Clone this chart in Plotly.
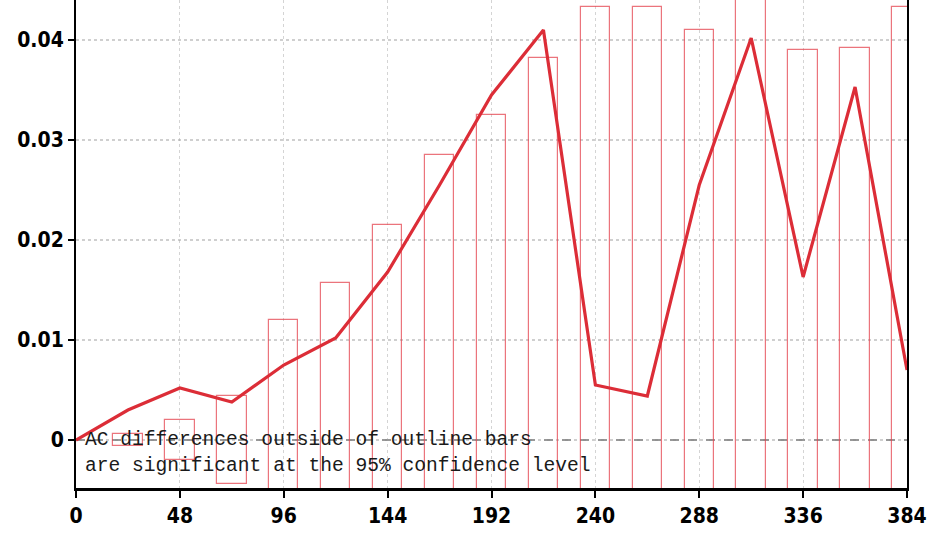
import plotly.graph_objects as go

# Forecast hour
hours = [0, 24, 48, 72, 96, 120, 144, 168, 192, 216, 240, 264, 288, 312, 336, 360, 384]
# AC difference (line)
ac_diff = [0.0, 0.003, 0.0052, 0.0038, 0.0075, 0.0102, 0.0168, 0.0255, 0.0345, 0.041,
           0.0055, 0.0044, 0.0255, 0.0402, 0.0163, 0.0353, 0.0070]
# 95% confidence half-widths (outline bars, drawn from -v to +v)
bar_hours = [24, 48, 72, 96, 120, 144, 168, 192, 216, 240, 264, 288, 312, 336, 360, 384]
conf = [0.0006, 0.002, 0.0044, 0.012, 0.0157, 0.0215, 0.0285, 0.0325, 0.0382, 0.0433,
        0.0433, 0.041, 0.047, 0.039, 0.0392, 0.0433]

x_ticks = [0, 48, 96, 144, 192, 240, 288, 336, 384]
y_ticks = [0, 0.01, 0.02, 0.03, 0.04]
y_tick_text = ["0", "0.01", "0.02", "0.03", "0.04"]

RED = "rgb(220,45,55)"

fig = go.Figure()
fig.add_trace(go.Bar(
    x=bar_hours, y=[2 * v for v in conf], base=[-v for v in conf],
    width=13.6,
    marker=dict(color="rgba(255,255,255,0)", line=dict(color="rgba(228,70,80,0.75)", width=1.2)),
    showlegend=False,
))
fig.add_trace(go.Scatter(
    x=hours, y=ac_diff, mode="lines",
    line=dict(color=RED, width=3.2),
    showlegend=False,
))

fig.add_hline(y=0, line=dict(color="rgb(110,110,110)", width=1.5, dash="dash"), layer="below")

ann_font = dict(family="Liberation Mono, DejaVu Sans Mono, monospace", size=19.6, color="#1a1a1a")
fig.add_annotation(x=0, y=0, xref="x", yref="y", xanchor="left", yanchor="middle", xshift=7,
                   text="AC differences outside of outline bars", showarrow=False, font=ann_font)
fig.add_annotation(x=0, y=0, xref="x", yref="y", xanchor="left", yanchor="middle", xshift=7, yshift=-26,
                   text="are significant at the 95% confidence level", showarrow=False, font=ann_font)

tickfont = dict(family="DejaVu Sans Condensed, DejaVu Sans, sans-serif", size=21, color="black", weight="bold")

fig.update_layout(
    width=933, height=534,
    margin=dict(l=76, r=26, t=0, b=46),
    paper_bgcolor="white", plot_bgcolor="white",
    bargap=0,
    xaxis=dict(range=[0, 384], tickvals=x_ticks, ticktext=[str(t) for t in x_ticks],
               showgrid=True, gridcolor="rgba(160,160,160,0.45)", griddash="dot", gridwidth=1,
               zeroline=False, showline=True, linecolor="black", linewidth=3, mirror=False,
               ticks="outside", ticklen=7, tickwidth=2, tickcolor="black", tickfont=tickfont),
    yaxis=dict(range=[-0.0048, 0.044], tickvals=y_ticks, ticktext=y_tick_text,
               showgrid=True, gridcolor="rgba(160,160,160,0.5)", griddash="dot", gridwidth=1.5,
               zeroline=False, showline=True, linecolor="black", linewidth=2, mirror=True,
               ticks="outside", ticklen=6, tickwidth=2, tickcolor="black", tickfont=tickfont),
)

fig.write_html("out.html")
